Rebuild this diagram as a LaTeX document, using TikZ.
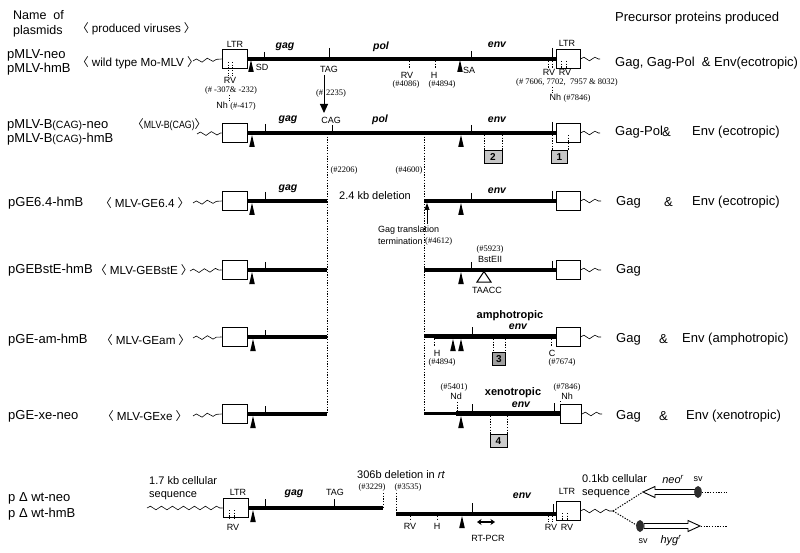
\documentclass[tikz,border=0pt]{standalone}
\usepackage{fontspec}
\usepackage{graphicx}
\setmainfont{Liberation Sans}
\newfontfamily\seriffam{Liberation Serif}
\newfontfamily\cjkfam{Noto Sans CJK SC}
\usetikzlibrary{decorations.pathmorphing,arrows.meta}
\newcommand\LB{{\cjkfam 〈}}
\newcommand\RB{{\cjkfam 〉}}
\newcommand\vlab[1]{\LB\hspace{3pt}#1\hspace{3pt}\RB}
\newcommand\sdtri[2]{\fill (#1,#2) -- ++(-2.8,12) -- ++(5.6,0) -- cycle;}
\newcommand\nm[1]{{\seriffam\fontsize{8.5}{10}\selectfont #1}}
\begin{document}
\begin{tikzpicture}[x=1pt,y=-1pt,
  big/.style={font=\fontsize{13}{15}\selectfont, inner sep=0, anchor=west},
  hdr/.style={font=\fontsize{12.5}{15}\selectfont, inner sep=0, anchor=west},
  vir/.style={font=\fontsize{11.7}{14}\selectfont, inner sep=0, anchor=west},
  sm/.style={font=\fontsize{9}{10}\selectfont, inner sep=0},
  num/.style={font=\seriffam\fontsize{8.5}{10}\selectfont, inner sep=0},
  gene/.style={font=\bfseries\itshape\fontsize{10.5}{12}\selectfont, inner sep=0},
  trop/.style={font=\bfseries\fontsize{11}{13}\selectfont, inner sep=0},
  mid/.style={font=\fontsize{11}{13}\selectfont, inner sep=0, anchor=west},
  resist/.style={font=\itshape\fontsize{11}{12}\selectfont, inner sep=0},
  ltr/.style={draw, line width=0.9pt, fill=white, minimum width=25pt, minimum height=19pt, inner sep=0},
  ltrr/.style={ltr, minimum width=24pt},
  gl/.style={line width=3.2pt},
  thk/.style={line width=5pt},
  dots/.style={line width=0.8pt, dash pattern=on 1.3pt off 1.4pt},
  wave/.style={line width=0.6pt, decorate, decoration={snake, amplitude=1.8pt, segment length=11pt}},
  tk/.style={line width=0.8pt},
  numbox/.style={draw, line width=0.8pt, fill=gray!45, minimum width=18pt, minimum height=13pt, inner sep=0, font=\bfseries\fontsize{10}{12}\selectfont},
]
\fill[white] (0,0) rectangle (800,553);
\useasboundingbox (0,0) rectangle (800,553);

% header
\node[hdr] (h1) at (13,15) {Name\ \ of};
\node[hdr] (h2) at (13,31) {plasmids};
\node[vir] (h3) at (77,29) {\vlab{produced viruses}};
\node[big] (h4) at (615,18) {Precursor proteins produced};

% ---------------- row 1
\node[big] (p1a) at (7,55) {pMLV-neo};
\node[big] (p1b) at (7,69) {pMLV-hmB};
\node[vir] (v1) at (77,63) {\vlab{wild type Mo-MLV}};
\node[ltr] (b1l) at (234.5,59) {};
\node[ltrr] (b1r) at (568,59) {};
\draw[wave] (193,61) -- (b1l.west);
\draw[wave] (b1r.east) -- (600,59);
\draw[gl] (b1l.east) -- (b1r.west);
\node[sm] (ltr1a) at (235,44) {LTR};
\node[sm] (ltr1b) at (567,43) {LTR};
\draw[dots] (228,62) -- (228,76);
\draw[dots] (232,62) -- (232,76);
\node[sm] (rv1a) at (230,80) {RV};
\node[num] (n1a) at (231,90) {(\# -307\& -232)};
\draw[dots] (229,95) -- (229,101);
\node[sm] (nh1a) at (236,106) {Nh \nm{(\#-417)}};
\sdtri{251}{60}
\node[sm] (sd) at (262,67) {SD};
\draw[tk] (264,52) -- (264,59);
\draw[tk] (329,48) -- (329,59);
\draw[tk] (471,51) -- (471,59);
\node[gene] (g1) at (285,47) {gag};
\node[gene] (p1) at (381,47) {pol};
\node[gene] (e1) at (497,45) {env};
\node[sm] (tag1) at (329,69) {TAG};
\draw[dots] (409,61) -- (409,69);
\node[sm] (rv1b) at (407,75) {RV};
\node[num] (n1b) at (406,84) {(\#4086)};
\draw[dots] (435,61) -- (435,69);
\node[sm] (h1b) at (434,75) {H};
\node[num] (n1c) at (442,84) {(\#4894)};
\sdtri{460}{60}
\node[sm] (sa) at (469,70) {SA};
\draw[tk] (552,48) -- (552,60);
\draw[dots] (548,61) -- (548,68);
\draw[dots] (552,61) -- (552,68);
\draw[dots] (561,61) -- (561,68);
\draw[dots] (566,61) -- (566,68);
\node[sm] (rv1c) at (549,72) {RV};
\node[sm] (rv1d) at (565,72) {RV};
\node[num] (n1d) at (567,82) {(\# 7606, 7702,\ \ 7957 \& 8032)};
\draw[dots] (552,87) -- (552,93);
\node[sm] (nh1b) at (570,98) {Nh \nm{(\#7846)}};
\node[big] (r1) at (615,63) {Gag, Gag-Pol\ \ \& Env(ecotropic)};

% TAG -> CAG
\node[sm] (cag) at (331,120) {CAG};
\node[num] (n2235) at (331,93) {(\#\hspace{3pt}2235)};
\draw[line width=1pt, -{Triangle[length=9pt,width=8pt]}] (324,75) -- (324,113);

% ---------------- row 2
\node[big] (p2a) at (7,125) {pMLV-B{\fontsize{10.5}{12}\selectfont(CAG)}-neo};
\node[big] (p2b) at (7,139) {pMLV-B{\fontsize{10.5}{12}\selectfont(CAG)}-hmB};
\node[vir] (v2) at (132,125) {\LB{\fontsize{10.5}{12}\selectfont\scalebox{0.84}[1]{MLV-B(CAG)}}\RB};
\node[ltr] (b2l) at (234.5,133) {};
\node[ltrr] (b2r) at (568,133) {};
\draw[wave] (197,134) -- (b2l.west);
\draw[wave] (b2r.east) -- (600,133);
\draw[gl] (b2l.east) -- (b2r.west);
\sdtri{252}{135}
\draw[tk] (265,124) -- (265,133);
\draw[tk] (332,125) -- (332,133);
\draw[tk] (471,125) -- (471,133);
\node[gene] (g2) at (288,120) {gag};
\node[gene] (p2) at (380,120) {pol};
\node[gene] (e2) at (497,120) {env};
\draw[dots] (327,134) -- (327,414);
\draw[dots] (424,134) -- (424,413);
\node[num] (n2206) at (344,170) {(\#2206)};
\node[num] (n4600) at (409,170) {(\#4600)};
\sdtri{461}{135}
\draw[dots] (484,135) -- (484,151);
\draw[dots] (502,135) -- (502,151);
\node[numbox] (bx2) at (493,157) {2};
\draw[tk] (552,122) -- (552,133);
\draw[dots] (552,135) -- (552,151);
\draw[dots] (568,135) -- (568,151);
\node[numbox, minimum width=16pt] (bx1) at (559.5,157) {1};
\node[big] (r2a) at (615,132) {Gag-Pol};
\node[big] (r2b) at (662,132) {\&};
\node[big] (r2c) at (692,132) {Env (ecotropic)};

% ---------------- row 3
\node[big] (p3) at (8,203) {pGE6.4-hmB};
\node[vir] (v3) at (100,203) {\vlab{MLV-GE6.4}};
\node[ltr] (b3l) at (234.5,201) {};
\node[ltrr] (b3r) at (568,201) {};
\draw[wave] (193,203) -- (b3l.west);
\draw[wave] (b3r.east) -- (601,201);
\draw[gl] (b3l.east) -- (327,201);
\draw[gl] (424,201) -- (b3r.west);
\sdtri{252}{203}
\draw[tk] (265,192) -- (265,201);
\node[gene] (g3) at (288,189) {gag};
\node[mid] (del24) at (339,196) {2.4 kb deletion};
\draw[line width=0.8pt, -{Triangle[length=7pt,width=5pt]}] (427,224) -- (427,203);
\node[sm, anchor=west] (gt1) at (378,230) {Gag translation};
\node[sm, anchor=west] (gt2) at (378,241) {termination};
\node[num, anchor=west] (n4612) at (425,241) {(\#4612)};
\sdtri{461}{203}
\draw[tk] (471,193) -- (471,201);
\node[gene] (e3) at (497,191) {env};
\draw[tk] (552,191) -- (552,201);
\node[big] (r3a) at (616,202) {Gag};
\node[big] (r3b) at (664,202) {\&};
\node[big] (r3c) at (692,202) {Env (ecotropic)};

% ---------------- row 4
\node[big] (p4) at (8,270) {pGEBstE-hmB};
\node[vir] (v4) at (95,270) {\vlab{MLV-GEBstE}};
\node[ltr] (b4l) at (234.5,270) {};
\node[ltrr] (b4r) at (568,270) {};
\draw[wave] (190,271) -- (b4l.west);
\draw[wave] (b4r.east) -- (601,270);
\draw[gl] (b4l.east) -- (327,270);
\draw[gl] (424,270) -- (b4r.west);
\sdtri{252}{272}
\draw[tk] (265,262) -- (265,270);
\sdtri{461}{272}
\draw[tk] (471,262) -- (471,270);
\draw[tk] (552,261) -- (552,270);
\node[num] (n5923) at (490,249) {(\#5923)};
\node[sm] (bst) at (490,259) {BstEII};
\draw[line width=1pt, fill=white] (484,271.5) -- (477,282) -- (491,282) -- cycle;
\node[sm] (taacc) at (487,290) {TAACC};
\node[big] (r4) at (616,270) {Gag};

% ---------------- row 5
\node[big] (p5) at (8,340) {pGE-am-hmB};
\node[vir] (v5) at (101,340) {\vlab{MLV-GEam}};
\node[ltr] (b5l) at (234.5,337) {};
\node[ltrr] (b5r) at (568,337) {};
\draw[wave] (193,338) -- (b5l.west);
\draw[wave] (b5r.east) -- (601,337);
\draw[gl] (b5l.east) -- (327,337);
\draw[gl] (424,336) -- (434,336);
\draw[thk] (434,336) -- (b5r.west |- 0,336);
\sdtri{253}{339}
\draw[tk] (265,330) -- (265,337);
\draw[tk] (472,327) -- (472,334);
\sdtri{453}{339}
\sdtri{461}{339}
\draw[dots] (434,339) -- (434,347);
\node[sm] (h5) at (437,353) {H};
\node[num] (n5h) at (442,362) {(\#4894)};
\draw[dots] (493,339) -- (493,353);
\draw[dots] (505,339) -- (505,353);
\node[numbox, fill=gray!75, minimum width=13pt] (bx3) at (499,359) {3};
\draw[dots] (551,339) -- (551,347);
\node[sm] (c5) at (552,353) {C};
\node[num] (n7674) at (562,362) {(\#7674)};
\node[trop] (amph) at (510,316) {amphotropic};
\node[gene] (e5) at (518,327) {env};
\node[big] (r5a) at (616,339) {Gag};
\node[big] (r5b) at (659,339) {\&};
\node[big] (r5c) at (682,339) {Env (amphotropic)};

% ---------------- row 6
\node[big] (p6) at (8,416) {pGE-xe-neo};
\node[vir] (v6) at (102,416) {\vlab{MLV-GExe}};
\node[ltr] (b6l) at (234.5,414) {};
\node[ltr, minimum width=21pt] (b6r) at (571,414) {};
\draw[wave] (193,416) -- (b6l.west);
\draw[wave] (b6r.east) -- (602,414);
\draw[gl] (b6l.east) -- (327,414);
\draw[gl] (424,413.5) -- (456,413.5);
\draw[thk] (456,413.5) -- (b6r.west |- 0,413.5);
\sdtri{253}{416}
\draw[tk] (265,406) -- (265,414);
\draw[dots] (457,402) -- (457,411);
\node[sm] (nd) at (456,396) {Nd};
\node[num] (n5401) at (454,387) {(\#5401)};
\sdtri{461}{416}
\draw[tk] (472,404) -- (472,411);
\node[trop] (xeno) at (513,392.5) {xenotropic};
\node[gene] (e6) at (521,404.5) {env};
\draw[dots] (490,416) -- (490,435);
\draw[dots] (507,416) -- (507,435);
\node[numbox, fill=gray!40, minimum width=17pt] (bx4) at (498.5,441) {4};
\node[num] (n7846) at (567,387) {(\#7846)};
\node[sm] (nh6) at (567,396) {Nh};
\draw[tk] (554,403) -- (554,412);
\draw[dots] (560,401) -- (560,411);
\node[big] (r6a) at (616,416) {Gag};
\node[big] (r6b) at (659,416) {\&};
\node[big] (r6c) at (686,416) {Env (xenotropic)};

% ---------------- bottom row
\node[big] (p7a) at (8,498) {p Δ wt-neo};
\node[big] (p7b) at (8,514) {p Δ wt-hmB};
\node[mid] (cs1) at (149,481) {1.7 kb cellular};
\node[mid] (cs2) at (149,496) {sequence};
\node[ltr] (b7l) at (235.5,508) {};
\node[ltrr] (b7r) at (568,511) {};
\draw[wave] (147,508) -- (b7l.west);
\node[sm] (ltr7a) at (238,492) {LTR};
\draw[dots] (229,510) -- (229,520);
\draw[dots] (234,510) -- (234,520);
\node[sm] (rv7a) at (233,527) {RV};
\draw[gl] (b7l.east) -- (383,508);
\sdtri{253}{510}
\draw[tk] (265,499) -- (265,508);
\node[gene] (g7) at (294,494) {gag};
\draw[tk] (334,499) -- (334,508);
\node[sm] (tag7) at (335,492) {TAG};
\draw[dots] (383,493) -- (383,508);
\node[num] (n3229) at (372,487) {(\#3229)};
\node[mid] (del306) at (357,475) {306b deletion in \textit{rt}};
\draw[dots] (396,493) -- (396,514);
\node[num] (n3535) at (408,487) {(\#3535)};
\draw[gl] (396,514) -- (b7r.west |- 0,514);
\draw[dots] (410,516) -- (410,521);
\node[sm] (rv7b) at (410,526) {RV};
\draw[dots] (437,516) -- (437,521);
\node[sm] (h7) at (437,526) {H};
\sdtri{462}{516}
\draw[tk] (472,503) -- (472,514);
\node[gene] (e7) at (522,496) {env};
\draw[line width=1.8pt, {Stealth[length=4.5pt,width=6pt]}-{Stealth[length=4.5pt,width=6pt]}] (477,522) -- (495,522);
\node[sm] (rtpcr) at (488,538) {RT-PCR};
\draw[tk] (553,504) -- (553,514);
\draw[dots] (548,516) -- (548,522);
\draw[dots] (552,516) -- (552,522);
\draw[dots] (562,513) -- (562,521);
\draw[dots] (567,513) -- (567,521);
\node[sm] (rv7c) at (551,527) {RV};
\node[sm] (rv7d) at (567,527) {RV};
\node[sm] (ltr7b) at (567,491) {LTR};
\coordinate (br) at (613,511);
\draw[wave] (b7r.east) -- (br);
\node[mid] (cs3) at (582,479) {0.1kb cellular};
\node[mid] (cs4) at (582,494) {sequence};
\coordinate (neotip) at (643,492);
\coordinate (hygsv) at (638,526);
\draw[dots, line width=1pt] (br) -- (neotip);
\draw[dots, line width=1pt] (br) -- (hygsv);
\draw[line width=0.9pt, fill=white] (698,489.5) -- (655,489.5) -- (655,486.5) -- (neotip) -- (655,497.5) -- (655,494.5) -- (698,494.5) -- cycle;
\fill[gray!35!black] (698,492) ellipse [x radius=3.8pt, y radius=6pt];
\draw[dots, line width=1pt] (702,492) -- (727,492);
\node[resist] (neo) at (673,479) {neo\textsuperscript{r}};
\node[sm] (sv1) at (698,479) {sv};
\draw[line width=0.9pt, fill=white] (644,523.5) -- (688,523.5) -- (688,520.5) -- (700,526) -- (688,531.5) -- (688,528.5) -- (644,528.5) -- cycle;
\fill[gray!35!black] (640,526) ellipse [x radius=3.8pt, y radius=6pt];
\draw[dots, line width=1pt] (701,526) -- (727,526);
\node[sm] (sv2) at (643,541) {sv};
\node[resist] (hyg) at (671,541) {hyg\textsuperscript{r}};
\end{tikzpicture}
\end{document}
